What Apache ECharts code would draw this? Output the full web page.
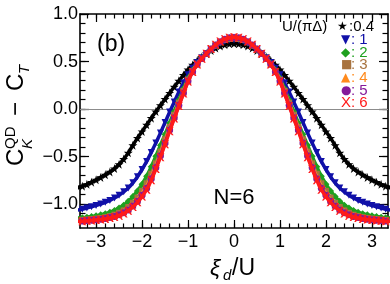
<!DOCTYPE html>
<html><head><meta charset="utf-8">
<script src="https://cdn.jsdelivr.net/npm/echarts@6/dist/echarts.min.js"></script>
<style>html,body{margin:0;padding:0;background:#fff}#c{width:390px;height:284px}</style>
</head><body><div id="c"></div>
<script>
const xs = [-3.4,-3.3,-3.2,-3.1,-3.0,-2.9,-2.8,-2.7,-2.6,-2.5,-2.4,-2.3,-2.2,-2.1,-2.0,-1.9,-1.8,-1.7,-1.6,-1.5,-1.4,-1.3,-1.2,-1.1,-1.0,-0.9,-0.8,-0.7,-0.6,-0.5,-0.4,-0.3,-0.2,-0.1,0,0.1,0.2,0.3,0.4,0.5,0.6,0.7,0.8,0.9,1.0,1.1,1.2,1.3,1.4,1.5,1.6,1.7,1.8,1.9,2.0,2.1,2.2,2.3,2.4,2.5,2.6,2.7,2.8,2.9,3.0,3.1,3.2,3.3,3.4];
const u04 = [-0.83,-0.81,-0.79,-0.768,-0.744,-0.718,-0.69,-0.66,-0.625,-0.58,-0.525,-0.46,-0.38,-0.305,-0.235,-0.165,-0.095,-0.025,0.04,0.105,0.17,0.235,0.297,0.358,0.415,0.465,0.51,0.548,0.583,0.615,0.642,0.663,0.678,0.687,0.69,0.687,0.678,0.663,0.642,0.615,0.583,0.548,0.51,0.465,0.415,0.358,0.297,0.235,0.17,0.105,0.04,-0.025,-0.095,-0.165,-0.235,-0.305,-0.38,-0.46,-0.525,-0.58,-0.625,-0.66,-0.69,-0.718,-0.744,-0.768,-0.79,-0.81,-0.83];
const u1 = [-1.062,-1.052,-1.04,-1.027,-1.013,-0.998,-0.98,-0.96,-0.935,-0.905,-0.87,-0.83,-0.775,-0.71,-0.635,-0.55,-0.455,-0.355,-0.25,-0.14,-0.03,0.075,0.18,0.275,0.36,0.43,0.49,0.54,0.586,0.628,0.664,0.692,0.713,0.726,0.73,0.726,0.713,0.692,0.664,0.628,0.586,0.54,0.49,0.43,0.36,0.275,0.18,0.075,-0.03,-0.14,-0.25,-0.355,-0.455,-0.55,-0.635,-0.71,-0.775,-0.83,-0.87,-0.905,-0.935,-0.96,-0.98,-0.998,-1.013,-1.027,-1.04,-1.052,-1.062];
const u2 = [-1.145,-1.141,-1.136,-1.13,-1.122,-1.112,-1.1,-1.085,-1.065,-1.04,-1.01,-0.97,-0.92,-0.86,-0.79,-0.705,-0.605,-0.495,-0.38,-0.265,-0.145,-0.025,0.095,0.215,0.325,0.41,0.48,0.538,0.588,0.632,0.671,0.703,0.726,0.74,0.745,0.74,0.726,0.703,0.671,0.632,0.588,0.538,0.48,0.41,0.325,0.215,0.095,-0.025,-0.145,-0.265,-0.38,-0.495,-0.605,-0.705,-0.79,-0.86,-0.92,-0.97,-1.01,-1.04,-1.065,-1.085,-1.1,-1.112,-1.122,-1.13,-1.136,-1.141,-1.145];
const u3 = [-1.168,-1.165,-1.161,-1.156,-1.151,-1.145,-1.136,-1.125,-1.11,-1.09,-1.065,-1.03,-0.985,-0.93,-0.86,-0.78,-0.68,-0.57,-0.447,-0.317,-0.187,-0.06,0.066,0.192,0.31,0.402,0.476,0.536,0.587,0.633,0.673,0.706,0.73,0.745,0.75,0.745,0.73,0.706,0.673,0.633,0.587,0.536,0.476,0.402,0.31,0.192,0.066,-0.06,-0.187,-0.317,-0.447,-0.57,-0.68,-0.78,-0.86,-0.93,-0.985,-1.03,-1.065,-1.09,-1.11,-1.125,-1.136,-1.145,-1.151,-1.156,-1.161,-1.165,-1.168];
const u4 = [-1.175,-1.172,-1.168,-1.164,-1.159,-1.153,-1.145,-1.135,-1.121,-1.104,-1.08,-1.05,-1.007,-0.955,-0.888,-0.81,-0.71,-0.595,-0.47,-0.338,-0.205,-0.076,0.052,0.18,0.302,0.397,0.473,0.534,0.586,0.633,0.674,0.708,0.732,0.747,0.752,0.747,0.732,0.708,0.674,0.633,0.586,0.534,0.473,0.397,0.302,0.18,0.052,-0.076,-0.205,-0.338,-0.47,-0.595,-0.71,-0.81,-0.888,-0.955,-1.007,-1.05,-1.08,-1.104,-1.121,-1.135,-1.145,-1.153,-1.159,-1.164,-1.168,-1.172,-1.175];
const u5 = [-1.179,-1.176,-1.172,-1.168,-1.163,-1.157,-1.15,-1.14,-1.128,-1.112,-1.09,-1.06,-1.018,-0.968,-0.905,-0.832,-0.732,-0.615,-0.49,-0.356,-0.22,-0.09,0.04,0.17,0.296,0.393,0.471,0.532,0.584,0.632,0.675,0.709,0.734,0.749,0.754,0.749,0.734,0.709,0.675,0.632,0.584,0.532,0.471,0.393,0.296,0.17,0.04,-0.09,-0.22,-0.356,-0.49,-0.615,-0.732,-0.832,-0.905,-0.968,-1.018,-1.06,-1.09,-1.112,-1.128,-1.14,-1.15,-1.157,-1.163,-1.168,-1.172,-1.176,-1.179];
const u6 = [-1.182,-1.179,-1.175,-1.171,-1.166,-1.161,-1.155,-1.146,-1.135,-1.12,-1.098,-1.068,-1.028,-0.98,-0.92,-0.848,-0.748,-0.63,-0.505,-0.37,-0.232,-0.1,0.032,0.163,0.29,0.39,0.47,0.53,0.583,0.632,0.676,0.71,0.735,0.75,0.755,0.75,0.735,0.71,0.676,0.632,0.583,0.53,0.47,0.39,0.29,0.163,0.032,-0.1,-0.232,-0.37,-0.505,-0.63,-0.748,-0.848,-0.92,-0.98,-1.028,-1.068,-1.098,-1.12,-1.135,-1.146,-1.155,-1.161,-1.166,-1.171,-1.175,-1.179,-1.182];
const seriesNames = ['0.4','1','2','3','4','5','6'];
const legendGlyphs = ['\u2605','\u25BC','\u25C6','\u25A0','\u25B2','\u25CF','X'];
const legendTexts = [':0.4',': 1',': 2',': 3',': 4',': 5',': 6'];
const xMajorTicks = [-3,-2,-1,0,1,2,3];
const xMinorTicks = [-3.2,-3.0,-2.8,-2.6,-2.4,-2.2,-2.0,-1.8,-1.6,-1.4,-1.2,-1.0,-0.8,-0.6,-0.4,-0.2,0,0.2,0.4,0.6,0.8,1.0,1.2,1.4,1.6,1.8,2.0,2.2,2.4,2.6,2.8,3.0,3.2];
const yMajorTicks = [-1,-0.5,0,0.5,1];
const yMinorTicks = [-1.2,-1.1,-1.0,-0.9,-0.8,-0.7,-0.6,-0.5,-0.4,-0.3,-0.2,-0.1,0,0.1,0.2,0.3,0.4,0.5,0.6,0.7,0.8,0.9,1.0];
const zeroLine = 0;

const FF = '"Liberation Sans", Arial, sans-serif';
const SYMF = '"DejaVu Sans", sans-serif';
const colors = ['#000000','#1010a8','#1ea01e','#a8733f','#ff8a1c','#84199a','#ff1a1a'];
const symbols = [
  'path://M50,0 L61,35 L98,35 L68,57 L79,91 L50,70 L21,91 L32,57 L2,35 L39,35 Z',
  'path://M0,0 L10,0 L5,9 Z',
  'diamond','rect','triangle','circle',
  'path://M0,0 L2.2,0 L5,3.6 L7.8,0 L10,0 L6.2,5 L10,10 L7.8,10 L5,6.4 L2.2,10 L0,10 L3.8,5 Z'
];
const sizes = [9,7,7,6,7,7,8];
const ys = [u04,u1,u2,u3,u4,u5,u6];
const yfmt = v => v.toFixed(1).replace('-', '\u2212');
const xfmt = v => String(v).replace('-', '\u2212');

function xAx(pos, major) {
  return {
    type: 'value', position: pos, min: -3.35, max: 3.35,
    axisLine: { show: major, onZero: false, lineStyle: { color: '#000', width: 1.6 } },
    axisTick: { show: true, inside: true, length: major ? 8 : 4.5, customValues: major ? xMajorTicks : xMinorTicks, lineStyle: { color: '#000', width: 1.2 } },
    axisLabel: (pos === 'bottom' && major) ? { show: true, customValues: xMajorTicks, formatter: xfmt, fontSize: 18, fontFamily: FF, color: '#000', margin: 5 } : { show: false },
    splitLine: { show: false }
  };
}
function yAx(pos, major) {
  return {
    type: 'value', position: pos, min: -1.25, max: 1.0,
    axisLine: { show: major, onZero: false, lineStyle: { color: '#000', width: 1.6 } },
    axisTick: { show: true, inside: true, length: major ? 9 : 5.5, customValues: major ? yMajorTicks : yMinorTicks, lineStyle: { color: '#000', width: 1.2 } },
    axisLabel: (pos === 'left' && major) ? { show: true, customValues: yMajorTicks, formatter: yfmt, fontSize: 18, fontFamily: FF, color: '#000', margin: 2 } : { show: false },
    splitLine: { show: false }
  };
}

const series = ys.map((arr, i) => ({
  name: seriesNames[i], type: 'line', xAxisIndex: 0, yAxisIndex: 0,
  data: xs.map((x, j) => [x, arr[j]]),
  symbol: symbols[i], symbolSize: sizes[i], showSymbol: true, showAllSymbol: true,
  smooth: 0.3,
  lineStyle: { color: colors[i], width: 3.5 },
  itemStyle: { color: colors[i], opacity: 1 },
  clip: true, silent: true, z: 3 + i
}));
series[0].markLine = {
  silent: true, symbol: ['none','none'], label: { show: false },
  lineStyle: { color: '#8c8c8c', width: 1.2, type: 'solid' },
  data: [{ yAxis: zeroLine }], z: 1
};

function T(text, x, y, font, color, align) {
  return { type: 'text', x: x, y: y, style: { text: text, font: font, fill: color || '#000', textAlign: align || 'left', textVerticalAlign: 'middle', align: align || 'left', verticalAlign: 'middle' } };
}
const graphics = [];
graphics.push(T('(b)', 97, 45, '23px ' + FF));
graphics.push(T('N=6', 234, 198, '22px ' + FF, '#000', 'center'));
graphics.push(T('U/(\u03C0\u0394)', 282, 27, '15px ' + FF));
legendGlyphs.forEach((g, i) => {
  const y = 27 + 12.7 * i;
  const gx = i === 0 ? 337 : 341;
  const gw = i === 6 ? 10 : (i === 0 ? 12 : 10);
  graphics.push(T(g, gx, y, (i === 6 ? '15px ' + FF : '12px ' + SYMF), colors[i]));
  graphics.push(T(legendTexts[i], gx + gw, y, '15px ' + FF, colors[i]));
});
// y axis title (rotated)
graphics.push({
  type: 'group', x: 16.5, y: 166, rotation: Math.PI / 2,
  children: [
    T('C', 0, 0, '24px ' + FF),
    T('QD', 17, -6, '15px ' + FF),
    T('K', 17, 11, 'italic 15px ' + FF),
    T('\u2212', 50, 0, '24px ' + FF),
    T('C', 75, 0, '24px ' + FF),
    T('T', 92, 8, 'italic 15px ' + FF)
  ]
});
// x axis title
graphics.push(T('\u03BE', 210, 269, 'italic 23px ' + FF));
graphics.push(T('d', 223, 276, 'italic 15px ' + FF));
graphics.push(T('/U', 232, 269, '23px ' + FF));

const chart = echarts.init(document.getElementById('c'), null, { renderer: 'canvas' });
chart.setOption({
  animation: false,
  grid: { left: 80, right: 2, top: 14, bottom: 56, containLabel: false },
  xAxis: [xAx('bottom', true), xAx('bottom', false), xAx('top', true), xAx('top', false)],
  yAxis: [yAx('left', true), yAx('left', false), yAx('right', true), yAx('right', false)],
  series: series,
  graphic: graphics
});
</script></body></html>
